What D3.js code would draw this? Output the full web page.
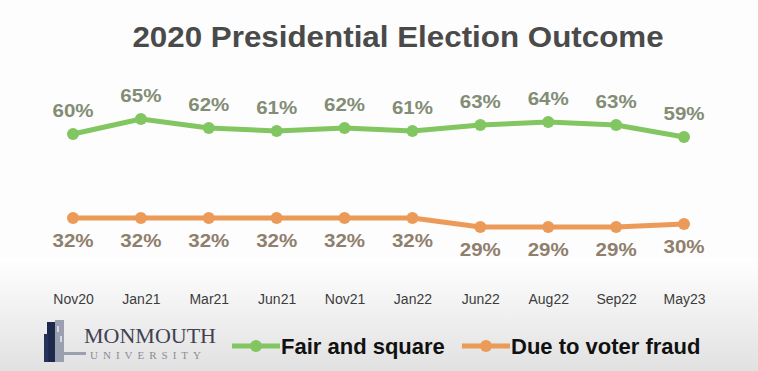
<!DOCTYPE html>
<html>
<head>
<meta charset="utf-8">
<script src="https://cdn.jsdelivr.net/npm/d3@7"></script>
<style>
  body { margin: 0; background: #fff; }
  svg { display: block; font-family: 'Liberation Sans', Arial, sans-serif; }
</style>
</head>
<body>
<div id="chart"></div>
<script>
// data
var months = ['Nov20', 'Jan21', 'Mar21', 'Jun21', 'Nov21', 'Jan22', 'Jun22', 'Aug22', 'Sep22', 'May23'];
var fairSquare = [60, 65, 62, 61, 62, 61, 63, 64, 63, 59];
var voterFraud = [32, 32, 32, 32, 32, 32, 29, 29, 29, 30];
var seriesNames = ['Fair and square', 'Due to voter fraud'];

var W = 758, H = 371;

var svg = d3.select('#chart')
  .append('svg')
    .attr('width', W)
    .attr('height', H);

// background gradient at the bottom
var defs = svg.append('defs');
var grad = defs.append('linearGradient')
    .attr('id', 'bg')
    .attr('x1', 0).attr('y1', 0).attr('x2', 0).attr('y2', 1);
grad.append('stop').attr('offset', '0%').attr('stop-color', '#ffffff');
grad.append('stop').attr('offset', '100%').attr('stop-color', '#e1e1e1');

svg.append('rect').attr('width', W).attr('height', H).attr('fill', '#fdfdfd');
svg.append('rect')
    .attr('y', 258).attr('width', W).attr('height', H - 258)
    .attr('fill', 'url(#bg)');

// scales
var X = d3.scalePoint()
    .domain(months)
    .range([73, 684]);

var Y = d3.scaleLinear()
    .domain([0, 100])
    .range([314, 14]);

// title
svg.append('text')
    .attr('transform', 'translate(398,47) scale(1.045,1)')
    .attr('text-anchor', 'middle')
    .attr('font-size', '30px')
    .attr('font-weight', 'bold')
    .attr('fill', '#4a4a4a')
    .text('2020 Presidential Election Outcome');

var series = [
  { name: seriesNames[0], values: fairSquare, color: '#82c662', label: '#838d76', dy: -17 },
  { name: seriesNames[1], values: voterFraud, color: '#ec9a58', label: '#8f7f6d', dy: 29 }
];

var line = d3.line()
    .x(function (d, i) { return X(months[i]); })
    .y(function (d) { return Y(d); });

series.forEach(function (s) {
  var g = svg.append('g');

  g.append('path')
      .datum(s.values)
      .attr('d', line)
      .attr('fill', 'none')
      .attr('stroke', s.color)
      .attr('stroke-width', 5)
      .attr('stroke-linejoin', 'round');

  g.selectAll('circle')
      .data(s.values)
      .enter()
      .append('circle')
      .attr('cx', function (d, i) { return X(months[i]); })
      .attr('cy', function (d) { return Y(d); })
      .attr('r', 6)
      .attr('fill', s.color);

  g.selectAll('text')
      .data(s.values)
      .enter()
      .append('text')
      .attr('transform', function (d, i) {
        return 'translate(' + X(months[i]) + ',' + (Y(d) + s.dy) + ') scale(1.08,1)';
      })
      .attr('text-anchor', 'middle')
      .attr('font-size', '19px')
      .attr('font-weight', 'bold')
      .attr('fill', s.label)
      .text(function (d) { return d + '%'; });
});

// x axis labels
var xAxis = d3.axisBottom(X).tickSize(0).tickPadding(0);
var ax = svg.append('g')
    .attr('transform', 'translate(0,294)')
    .call(xAxis);
ax.select('.domain').remove();
ax.selectAll('text')
    .attr('font-size', '14px')
    .attr('font-family', "'Liberation Sans', Arial, sans-serif")
    .attr('fill', '#3c3c3c');

// logo
var logo = svg.append('g');
logo.append('rect').attr('x', 47).attr('y', 322).attr('width', 8).attr('height', 40).attr('fill', '#1e2a4c');
logo.append('rect').attr('x', 44).attr('y', 334).attr('width', 4).attr('height', 28).attr('fill', '#26325a');
logo.append('rect').attr('x', 55).attr('y', 320).attr('width', 9).attr('height', 42).attr('fill', '#9aa0b0');
logo.append('rect').attr('x', 57).attr('y', 326).attr('width', 2).attr('height', 6).attr('fill', '#ffffff').attr('opacity', 0.6);
logo.append('rect').attr('x', 60).attr('y', 336).attr('width', 2).attr('height', 6).attr('fill', '#ffffff').attr('opacity', 0.6);
logo.append('rect').attr('x', 64).attr('y', 352).attr('width', 22).attr('height', 3).attr('fill', '#9aa0b0');
logo.append('text')
    .attr('x', 84).attr('y', 343)
    .attr('font-family', "'Liberation Serif', 'Times New Roman', serif")
    .attr('font-size', '22px')
    .attr('fill', '#3e4252')
    .text('MONMOUTH');
logo.append('text')
    .attr('x', 90).attr('y', 359)
    .attr('font-family', "'Liberation Serif', 'Times New Roman', serif")
    .attr('font-size', '11px')
    .attr('letter-spacing', '5px')
    .attr('fill', '#8a8d96')
    .text('UNIVERSITY');

// legend
var legendX = [232, 462];
var legend = svg.selectAll('.legend')
    .data(series)
    .enter()
    .append('g')
    .attr('class', 'legend')
    .attr('transform', function (d, i) { return 'translate(' + legendX[i] + ',346)'; });

legend.append('line')
    .attr('x1', 0).attr('x2', 48)
    .attr('stroke', function (d) { return d.color; })
    .attr('stroke-width', 5);
legend.append('circle')
    .attr('cx', 24).attr('r', 6)
    .attr('fill', function (d) { return d.color; });
legend.append('text')
    .attr('x', 49)
    .attr('y', 8)
    .attr('font-size', '22px')
    .attr('font-weight', 'bold')
    .attr('fill', '#111')
    .text(function (d) { return d.name; });
</script>
</body>
</html>
